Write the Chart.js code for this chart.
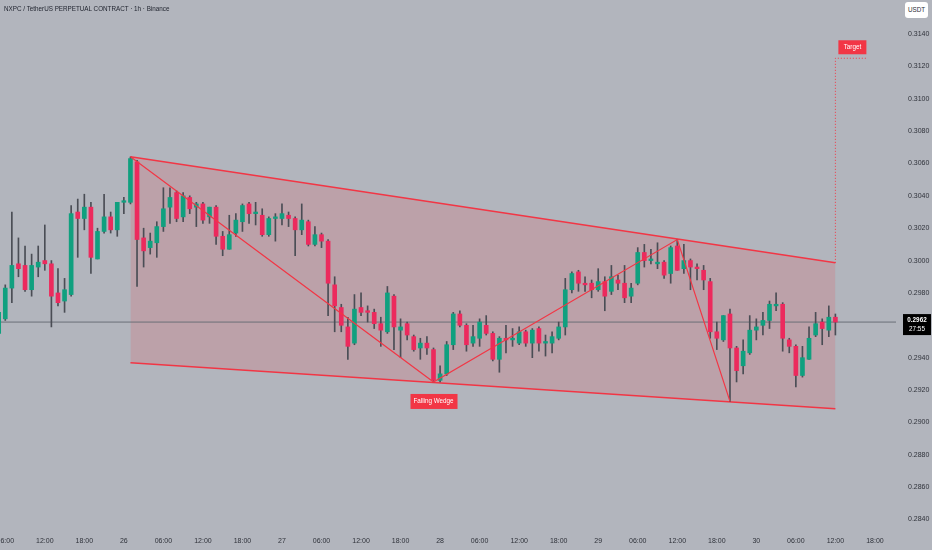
<!DOCTYPE html>
<html>
<head>
<meta charset="utf-8">
<script src="https://cdn.jsdelivr.net/npm/chart.js"></script>
<style>
  html, body { margin: 0; padding: 0; background: #b2b5bd; }
  #wrap { position: relative; width: 932px; height: 550px; }
  #title {
    position: absolute; left: 4px; top: 5px;
    font: 6.3px "Liberation Sans Narrow", "Liberation Sans", sans-serif;
    color: #1e222d; white-space: nowrap;
  }
  #unit {
    position: absolute; left: 905px; top: 2px; width: 23px; height: 16px;
    background: #fff; border-radius: 3px; color: #2a2e39; text-align: center;
    font: 6.3px/16px "Liberation Sans Narrow", "Liberation Sans", sans-serif;
  }
</style>
</head>
<body>
<div id="wrap">
  <canvas id="myChart"></canvas>
  <div id="title">NXPC / TetherUS PERPETUAL CONTRACT · 1h · Binance</div>
  <div id="unit">USDT</div>
</div>
<script>
// hours counted from 26th 00:00, one candle per hour, first candle 25th 05:00
const firstHour = -19;

const opens = [
  0.2955, 0.2964, 0.2983, 0.2998, 0.2997, 0.2982, 0.2996, 0.3000,
  0.2998, 0.2980, 0.2975, 0.2979, 0.3030, 0.3026, 0.3033, 0.3001,
  0.3018, 0.3027, 0.3019, 0.3036, 0.3036, 0.3061, 0.3014, 0.3008,
  0.3011, 0.3021, 0.3033, 0.3042, 0.3027, 0.3039, 0.3033, 0.3035,
  0.3027, 0.3033, 0.3015, 0.3007, 0.3017, 0.3024, 0.3035, 0.3029,
  0.3028, 0.3016, 0.3026, 0.3026, 0.3028, 0.3026, 0.3019, 0.3024,
  0.3010, 0.3016, 0.3012, 0.2985, 0.2971, 0.2959, 0.2949, 0.2971,
  0.2969, 0.2968, 0.2961, 0.2956, 0.2978, 0.2957, 0.2961, 0.2953,
  0.2946, 0.2949, 0.2945, 0.2926, 0.2930, 0.2948, 0.2967, 0.2960,
  0.2949, 0.2952, 0.2960, 0.2955, 0.2939, 0.2952, 0.2951, 0.2949,
  0.2956, 0.2949, 0.2958, 0.2949, 0.2949, 0.2952, 0.2959, 0.2982,
  0.2993, 0.2986, 0.2986, 0.2982, 0.2987, 0.2981, 0.2988, 0.2986,
  0.2978, 0.2986, 0.3005, 0.3000, 0.2998, 0.2999, 0.2992, 0.3009,
  0.2995, 0.3000, 0.2996, 0.2994, 0.2987, 0.2956, 0.2951, 0.2967,
  0.2946, 0.2935, 0.2943, 0.2957, 0.2960, 0.2963, 0.2972, 0.2973,
  0.2951, 0.2947, 0.2929, 0.2939, 0.2954, 0.2962, 0.2957, 0.2965
];
const highs = [
  0.2970, 0.2985, 0.3030, 0.3014, 0.3009, 0.3004, 0.3009, 0.3022,
  0.3000, 0.2995, 0.2989, 0.3034, 0.3038, 0.3041, 0.3036, 0.3020,
  0.3041, 0.3030, 0.3036, 0.3039, 0.3064, 0.3062, 0.3020, 0.3017,
  0.3024, 0.3045, 0.3045, 0.3043, 0.3042, 0.3040, 0.3036, 0.3036,
  0.3033, 0.3034, 0.3018, 0.3028, 0.3029, 0.3035, 0.3036, 0.3036,
  0.3032, 0.3027, 0.3029, 0.3035, 0.3030, 0.3027, 0.3035, 0.3025,
  0.3021, 0.3017, 0.3013, 0.2990, 0.2973, 0.2965, 0.2979, 0.2980,
  0.2972, 0.2970, 0.2965, 0.2984, 0.2979, 0.2964, 0.2962, 0.2954,
  0.2952, 0.2953, 0.2946, 0.2935, 0.2950, 0.2968, 0.2969, 0.2961,
  0.2960, 0.2964, 0.2966, 0.2956, 0.2953, 0.2960, 0.2958, 0.2959,
  0.2957, 0.2958, 0.2959, 0.2954, 0.2956, 0.2962, 0.2989, 0.2993,
  0.2994, 0.2990, 0.2988, 0.2995, 0.2990, 0.2997, 0.2991, 0.2997,
  0.2986, 0.3008, 0.3010, 0.3007, 0.3011, 0.3000, 0.3009, 0.3013,
  0.3010, 0.3001, 0.2998, 0.2997, 0.2989, 0.2962, 0.2966, 0.2970,
  0.2947, 0.2951, 0.2966, 0.2964, 0.2968, 0.2975, 0.2980, 0.2974,
  0.2952, 0.2948, 0.2947, 0.2959, 0.2968, 0.2964, 0.2972, 0.2967
];
const lows = [
  0.2953, 0.2963, 0.2974, 0.2990, 0.2981, 0.2978, 0.2990, 0.2994,
  0.2959, 0.2972, 0.2968, 0.2978, 0.3002, 0.3019, 0.2992, 0.3001,
  0.3017, 0.3017, 0.3015, 0.3029, 0.3035, 0.2984, 0.2996, 0.3004,
  0.3002, 0.3018, 0.3023, 0.3024, 0.3024, 0.3029, 0.3021, 0.3023,
  0.3023, 0.3010, 0.3003, 0.3007, 0.3015, 0.3018, 0.3023, 0.3022,
  0.3015, 0.3015, 0.3012, 0.3022, 0.3021, 0.3003, 0.3016, 0.3009,
  0.3009, 0.3008, 0.2966, 0.2956, 0.2956, 0.2939, 0.2948, 0.2966,
  0.2962, 0.2958, 0.2947, 0.2955, 0.2945, 0.2940, 0.2951, 0.2944,
  0.2939, 0.2942, 0.2925, 0.2925, 0.2929, 0.2945, 0.2959, 0.2944,
  0.2947, 0.2947, 0.2954, 0.2938, 0.2931, 0.2943, 0.2947, 0.2948,
  0.2947, 0.2940, 0.2944, 0.2941, 0.2943, 0.2951, 0.2954, 0.2980,
  0.2981, 0.2981, 0.2977, 0.2981, 0.2969, 0.2979, 0.2982, 0.2974,
  0.2974, 0.2985, 0.2996, 0.2998, 0.2995, 0.2989, 0.2986, 0.2994,
  0.2992, 0.2982, 0.2988, 0.2982, 0.2952, 0.2945, 0.2950, 0.2913,
  0.2925, 0.2930, 0.2942, 0.2951, 0.2954, 0.2958, 0.2969, 0.2944,
  0.2943, 0.2922, 0.2928, 0.2939, 0.2953, 0.2948, 0.2953, 0.2954
];
const closes = [
  0.2968, 0.2983, 0.2997, 0.2995, 0.2982, 0.2997, 0.2999, 0.2998,
  0.2978, 0.2974, 0.2982, 0.3029, 0.3026, 0.3033, 0.3002, 0.3018,
  0.3027, 0.3019, 0.3036, 0.3037, 0.3063, 0.3013, 0.3006, 0.3012,
  0.3021, 0.3032, 0.3039, 0.3026, 0.3040, 0.3032, 0.3035, 0.3025,
  0.3033, 0.3015, 0.3007, 0.3016, 0.3025, 0.3034, 0.3029, 0.3030,
  0.3016, 0.3026, 0.3027, 0.3029, 0.3026, 0.3019, 0.3025, 0.3010,
  0.3016, 0.3012, 0.2986, 0.2972, 0.2960, 0.2947, 0.2970, 0.2968,
  0.2968, 0.2961, 0.2957, 0.2980, 0.2959, 0.2959, 0.2954, 0.2945,
  0.2949, 0.2946, 0.2926, 0.2930, 0.2948, 0.2967, 0.2960, 0.2948,
  0.2953, 0.2962, 0.2955, 0.2939, 0.2952, 0.2951, 0.2952, 0.2956,
  0.2949, 0.2957, 0.2949, 0.2950, 0.2953, 0.2959, 0.2982, 0.2992,
  0.2986, 0.2985, 0.2982, 0.2987, 0.2978, 0.2990, 0.2986, 0.2977,
  0.2983, 0.3005, 0.3000, 0.3001, 0.2999, 0.2991, 0.3008, 0.2994,
  0.3000, 0.2996, 0.2995, 0.2988, 0.2956, 0.2952, 0.2966, 0.2946,
  0.2932, 0.2944, 0.2957, 0.2959, 0.2963, 0.2973, 0.2973, 0.2952,
  0.2947, 0.2929, 0.2940, 0.2952, 0.2961, 0.2958, 0.2965, 0.2962
];

// time axis ticks (hour offsets) and their labels
const timeTickHours = [-18, -12, -6, 0, 6, 12, 18, 24, 30, 36, 42, 48, 54, 60, 66, 72, 78, 84, 90, 96, 102, 108, 114];
const timeTickLabels = ["06:00", "12:00", "18:00", "26", "06:00", "12:00", "18:00", "27", "06:00", "12:00", "18:00", "28",
  "06:00", "12:00", "18:00", "29", "06:00", "12:00", "18:00", "30", "06:00", "12:00", "18:00"];
const priceTicks = [0.2840, 0.2860, 0.2880, 0.2900, 0.2920, 0.2940, 0.2960, 0.2980,
  0.3000, 0.3020, 0.3040, 0.3060, 0.3080, 0.3100, 0.3120, 0.3140];

// drawing: falling wedge, zig-zag swings, target
const wedgeHours = [1, 108];
const wedgeUpper = [0.30641, 0.29986];
const wedgeLower = [0.29369, 0.29085];
const swingHours = [1, 47, 84, 92];
const swingPrices = [0.30641, 0.2925, 0.3013, 0.2913];
const targetHours = [108, 108, 112.7];
const targetPrices = [0.29986, 0.3125, 0.3125];
const lastPrice = 0.2962;
const countdown = "27:55";

const UP = "#10a07f";
const DOWN = "#ec2a5d";
const RED = "#f23645";
const FONT = '"Liberation Sans Narrow", "Liberation Sans", sans-serif';

const hours = opens.map((_, i) => firstHour + i);
const bodies = hours.map((h, i) => ({ x: h, y: [opens[i], closes[i]] }));
const wicks = hours.map((h, i) => ({ x: h, y: [lows[i], highs[i]] }));
const candleColors = opens.map((o, i) => (closes[i] >= o ? UP : DOWN));
const pts = (xs, ys) => xs.map((x, i) => ({ x: x, y: ys[i] }));

const drawLabels = {
  id: "drawLabels",
  beforeDraw(chart) {
    const ctx = chart.ctx;
    ctx.save();
    ctx.fillStyle = "#b2b5bd";
    ctx.fillRect(0, 0, chart.width, chart.height);
    ctx.restore();
  },
  afterDraw(chart) {
    const { ctx, scales } = chart;
    const x = scales.x, y = scales.y;
    ctx.save();
    ctx.textAlign = "center";
    ctx.textBaseline = "middle";

    // falling wedge tag under the swing low
    const wx = x.getPixelForValue(swingHours[1]);
    const wy = y.getPixelForValue(swingPrices[1]) + 12;
    ctx.fillStyle = RED;
    ctx.fillRect(wx - 23, wy, 47, 15);
    ctx.fillStyle = "#fff";
    ctx.font = "6.3px " + FONT;
    ctx.fillText("Falling Wedge", wx, wy + 7.5);

    // target tag
    const tx = x.getPixelForValue(targetHours[0]) + 3;
    const ty = y.getPixelForValue(targetPrices[1]);
    ctx.fillStyle = RED;
    ctx.fillRect(tx, ty - 18, 28, 14);
    ctx.fillStyle = "#fff";
    ctx.fillText("Target", tx + 14, ty - 11);

    // last price tag on the price axis
    const py = y.getPixelForValue(lastPrice);
    const right = chart.chartArea.right;
    ctx.fillStyle = "#000";
    ctx.fillRect(right + 7, py - 8, 28, 21);
    ctx.fillStyle = "#fff";
    ctx.font = "bold 6.3px " + FONT;
    ctx.fillText(lastPrice.toFixed(4), right + 21, py - 2);
    ctx.font = "6.3px " + FONT;
    ctx.fillText(countdown, right + 21, py + 7);
    ctx.restore();
  }
};

new Chart(document.getElementById("myChart"), {
  type: "bar",
  data: {
    datasets: [
      {
        type: "line", data: pts(wedgeHours, wedgeUpper), borderColor: RED, borderWidth: 1.5,
        pointRadius: 0, fill: "+1", backgroundColor: "rgba(242, 54, 69, 0.16)", order: 6
      },
      {
        type: "line", data: pts(wedgeHours, wedgeLower), borderColor: RED, borderWidth: 1.5,
        pointRadius: 0, fill: false, order: 6
      },
      {
        type: "line", data: pts([firstHour - 1, 118], [lastPrice, lastPrice]), borderColor: "#6b6e78",
        borderWidth: 1, pointRadius: 0, fill: false, order: 5
      },
      {
        data: wicks, backgroundColor: "#4a4d55", barThickness: 1, grouped: false, order: 4
      },
      {
        data: bodies, backgroundColor: candleColors, barThickness: 4, minBarLength: 1,
        grouped: false, order: 3
      },
      {
        type: "line", data: pts(swingHours, swingPrices), borderColor: RED, borderWidth: 1.2,
        pointRadius: 0, fill: false, order: 2
      },
      {
        type: "line", data: pts(targetHours, targetPrices), borderColor: RED, borderWidth: 1,
        borderDash: [1, 2], pointRadius: 0, fill: false, order: 1
      }
    ]
  },
  options: {
    responsive: true,
    maintainAspectRatio: false,
    animation: false,
    layout: { padding: 0, autoPadding: false },
    plugins: { legend: { display: false }, tooltip: { enabled: false } },
    scales: {
      x: {
        type: "linear",
        min: -18.8,
        max: 117.2,
        offset: false,
        grid: { display: false, drawTicks: false },
        border: { display: false },
        afterFit: (scale) => { scale.height = 24; scale.paddingLeft = 0; scale.paddingRight = 0; },
        afterBuildTicks: (scale) => { scale.ticks = timeTickHours.map((v) => ({ value: v })); },
        ticks: {
          autoSkip: false,
          maxRotation: 0,
          padding: 11,
          color: "#2f323a",
          font: { family: FONT, size: 7 },
          callback: (v) => timeTickLabels[timeTickHours.indexOf(v)]
        }
      },
      y: {
        type: "linear",
        position: "right",
        min: 0.2836,
        max: 0.3161,
        grid: { display: false, drawTicks: false },
        border: { display: false },
        afterFit: (scale) => { scale.width = 36; scale.paddingTop = 0; scale.paddingBottom = 0; },
        afterBuildTicks: (scale) => { scale.ticks = priceTicks.map((v) => ({ value: v })); },
        ticks: {
          padding: 12,
          color: "#2f323a",
          font: { family: FONT, size: 7 },
          callback: (v) => v.toFixed(4)
        }
      }
    }
  },
  plugins: [drawLabels]
});
</script>
</body>
</html>
